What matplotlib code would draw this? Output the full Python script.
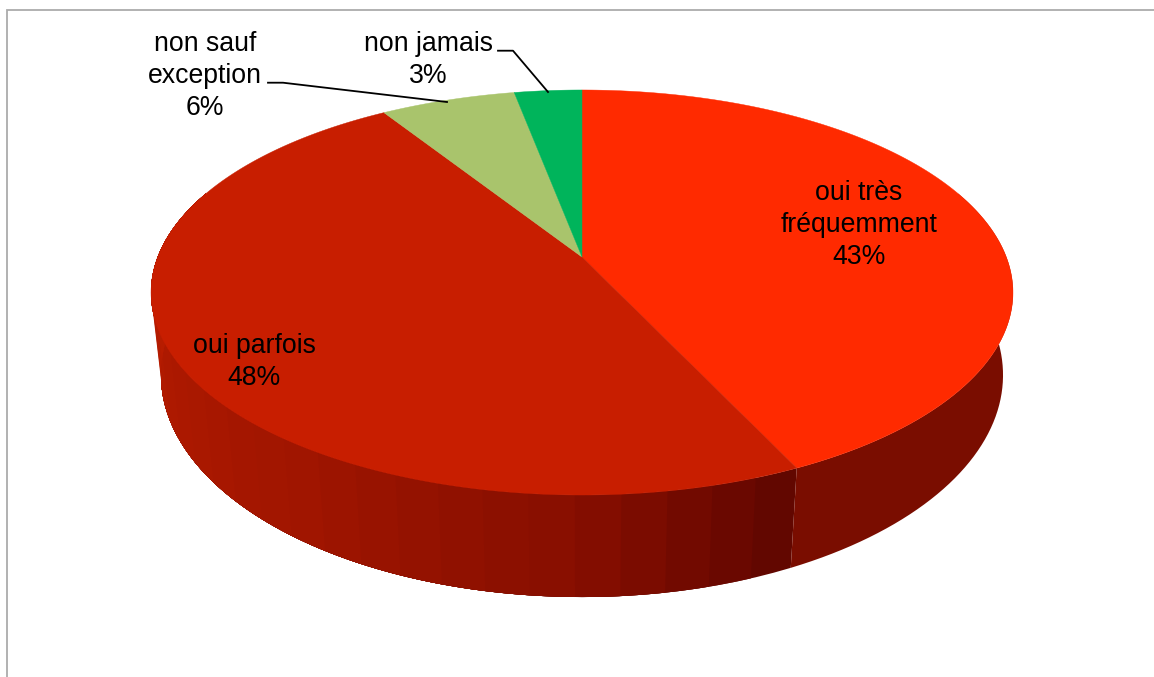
import numpy as np
import matplotlib
matplotlib.use("Agg")
import matplotlib.pyplot as plt
from matplotlib.colors import to_rgb


categories = ["oui très\nfréquemment", "oui parfois", "non sauf\nexception", "non jamais"]
values = [43, 48, 6, 3]
slice_colors = ["#FF2A00", "#C81E00", "#A9C46C", "#00B45B"]

# perspective of the two rims, in pixels: apex y, radius x, radius y, tilt
CENTER_X = 582
TOP_RIM = (257, 424.3, 196.3, 0.1753)
LOW_RIM = (337.3, 414.9, 215.6, 0.17)


def project(angle, rim=TOP_RIM):
    # angle in degrees, clockwise from the back of the pie
    apex_y, radius_x, radius_y, tilt = rim
    t = np.radians(angle)
    depth = 1 + tilt * np.cos(t)
    x = CENTER_X + radius_x * np.sin(t) / depth
    y = apex_y - radius_y * np.cos(t) / depth
    return x, y


def wall_color(angle):
    stops = [155, 180, 215, 270]
    shades = [to_rgb("#5E0600"), to_rgb("#860E00"), to_rgb("#A01500"), to_rgb("#B81C00")]
    return [np.interp(angle, stops, [s[i] for s in shades]) for i in range(3)]


def draw_wall(ax, start, end, steps, color=None):
    edges = np.linspace(start, end, steps + 1)
    # each strip runs on to the end, the next one paints over it, so no seams
    for a, b in zip(edges[:-1], edges[1:]):
        arc = np.linspace(a, end, 60)
        x_top, y_top = project(arc)
        x_low, y_low = project(arc[::-1], LOW_RIM)
        face = color if color is not None else wall_color((a + b) / 2)
        ax.fill(np.r_[x_top, x_low], np.r_[y_top, y_low], color=face, lw=0)


fig = plt.figure(figsize=(11.54, 6.77), dpi=100)
ax = fig.add_axes([0, 0, 1, 1])
ax.set_xlim(0, 1154)
ax.set_ylim(677, 0)
ax.axis("off")

# frame is cut by the image on the right and at the bottom
ax.plot([6.5, 6.5, 1154], [677, 9.5, 9.5], color="#ABABAB", lw=1.3, solid_joinstyle="miter")

angles = np.cumsum([0] + values) / sum(values) * 360
split = angles[1]

draw_wall(ax, split, 290, 26)
draw_wall(ax, 70, split, 1, "#7A0D00")

for start, end, color in zip(angles[:-1], angles[1:], slice_colors):
    arc = np.linspace(start, end, 200)
    x, y = project(arc)
    ax.fill(np.r_[CENTER_X, x], np.r_[TOP_RIM[0], y], color=color, lw=0.3)

# leader lines for the two small slices
ax.plot([268, 283, 447], [82.7, 82.7, 102], color="black", lw=1.3)
ax.plot([498, 513, 548], [50.7, 50.7, 92], color="black", lw=1.3)

label_x = [859, 254, 205, 428]
label_y = [225, 362, 76, 60]
for cat, val, x, y in zip(categories, values, label_x, label_y):
    ax.text(x, y, f"{cat}\n{val}%", ha="center", va="center", ma="center",
            family="Liberation Sans", fontsize=19.2, linespacing=1.28, color="black")

fig.savefig("out.png", dpi=100)
